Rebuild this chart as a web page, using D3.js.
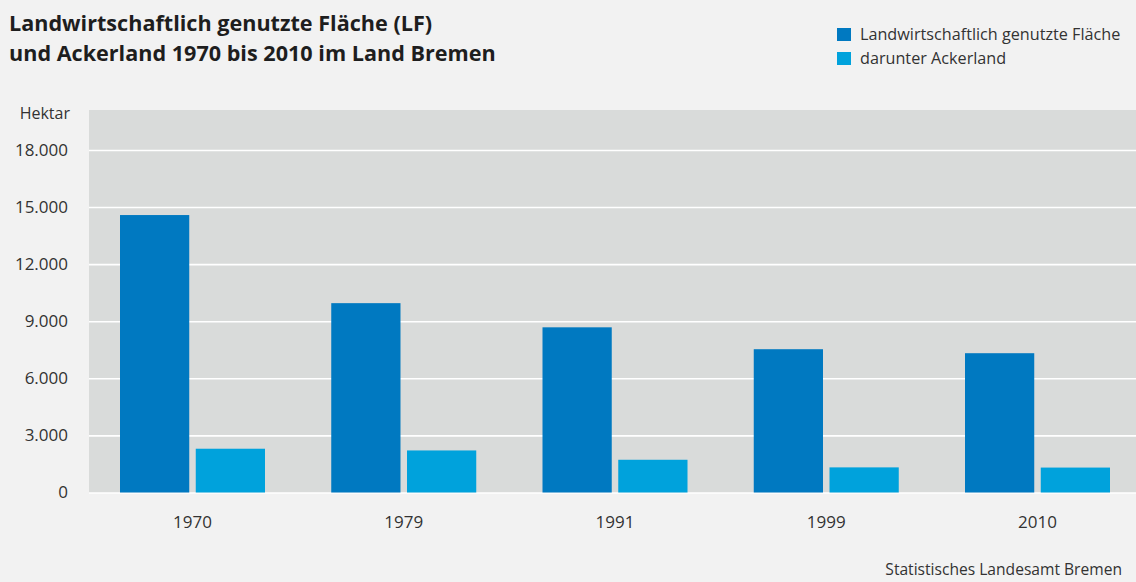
<!DOCTYPE html>
<html lang="de">
<head>
<meta charset="UTF-8">
<script src="https://d3js.org/d3.v7.min.js"></script>
<style>
body { margin: 0; background: #f2f2f2; }
svg { display: block; font-family: "Open Sans", sans-serif; }
.title { font-size: 21.6px; font-weight: bold; fill: #1e1e1e; }
.legend text { font-size: 16.2px; fill: #333; }
.axis text { font-family: "Open Sans", sans-serif; font-size: 17px; fill: #333; }
.hektar { font-size: 16px; fill: #333; }
.source { font-size: 15.6px; fill: #333; }
</style>
</head>
<body>
<svg id="chart"></svg>
<script>
// data
const years = ['1970', '1979', '1991', '1999', '2010'];
const seriesNames = ['Landwirtschaftlich genutzte Fläche', 'darunter Ackerland'];
const lfValues = [14580, 9950, 8680, 7530, 7320];
const ackerValues = [2300, 2210, 1720, 1320, 1310];
const yTicks = [0, 3000, 6000, 9000, 12000, 15000, 18000];
const colors = ['#0079c1', '#00a2dc'];

const W = 1136, H = 582;
const plot = { left: 89, right: 1136, top: 110, bottom: 493 };

const svg = d3.select('#chart').attr('width', W).attr('height', H);

// title
const title = svg.append('text').attr('class', 'title');
title.append('tspan').attr('x', 9).attr('y', 31).text('Landwirtschaftlich genutzte Fläche (LF)');
title.append('tspan').attr('x', 9).attr('y', 61).text('und Ackerland 1970 bis 2010 im Land Bremen');

// legend
const legend = svg.append('g').attr('class', 'legend');
seriesNames.forEach((name, i) => {
    legend.append('rect')
        .attr('x', 837).attr('y', 28 + i * 24)
        .attr('width', 14).attr('height', 13)
        .attr('fill', colors[i]);
    legend.append('text')
        .attr('x', 860).attr('y', 40 + i * 24)
        .text(name);
});

// scales
const y = d3.scaleLinear().domain([0, 20100]).range([492.5, plot.top]);
const x0 = d3.scaleBand().domain(years).range([120, 1110]).paddingInner(0.3136).paddingOuter(0);
const x1 = d3.scaleBand().domain([0, 1]).range([0, x0.bandwidth()]).paddingInner(0.086);

// plot background
svg.append('rect')
    .attr('x', plot.left).attr('y', plot.top)
    .attr('width', plot.right - plot.left).attr('height', plot.bottom - plot.top)
    .attr('fill', '#d9dbda');

// gridlines
svg.append('g')
    .attr('class', 'gridlines')
    .attr('transform', 'translate(' + plot.left + ',0)')
    .call(d3.axisLeft(y).tickValues(yTicks).tickSize(-(plot.right - plot.left)).tickFormat(''))
    .call(g => g.select('.domain').remove())
    .call(g => g.selectAll('line').attr('stroke', '#ffffff').attr('stroke-width', 1.6));

// bars
const groups = svg.append('g').selectAll('g')
    .data(years)
    .enter().append('g')
    .attr('transform', d => 'translate(' + x0(d) + ',0)');

groups.selectAll('rect')
    .data((d, i) => [lfValues[i], ackerValues[i]])
    .enter().append('rect')
    .attr('x', (d, i) => x1(i))
    .attr('y', d => y(d))
    .attr('width', x1.bandwidth())
    .attr('height', d => y(0) - y(d))
    .attr('fill', (d, i) => colors[i]);

// y axis labels
svg.append('g')
    .attr('class', 'axis')
    .attr('transform', 'translate(68,0)')
    .call(d3.axisLeft(y).tickValues(yTicks).tickSize(0).tickPadding(0)
        .tickFormat(d => d3.format(',')(d).replace(/,/g, '.')))
    .call(g => g.select('.domain').remove());

svg.append('text')
    .attr('class', 'hektar')
    .attr('x', 70).attr('y', 119)
    .attr('text-anchor', 'end')
    .text('Hektar');

// x axis labels
svg.append('g')
    .attr('class', 'axis')
    .attr('transform', 'translate(0,' + plot.bottom + ')')
    .call(d3.axisBottom(x0).tickSize(0).tickPadding(23))
    .call(g => g.select('.domain').remove());

// source
svg.append('text')
    .attr('class', 'source')
    .attr('x', 1122).attr('y', 575)
    .attr('text-anchor', 'end')
    .text('Statistisches Landesamt Bremen');
</script>
</body>
</html>
